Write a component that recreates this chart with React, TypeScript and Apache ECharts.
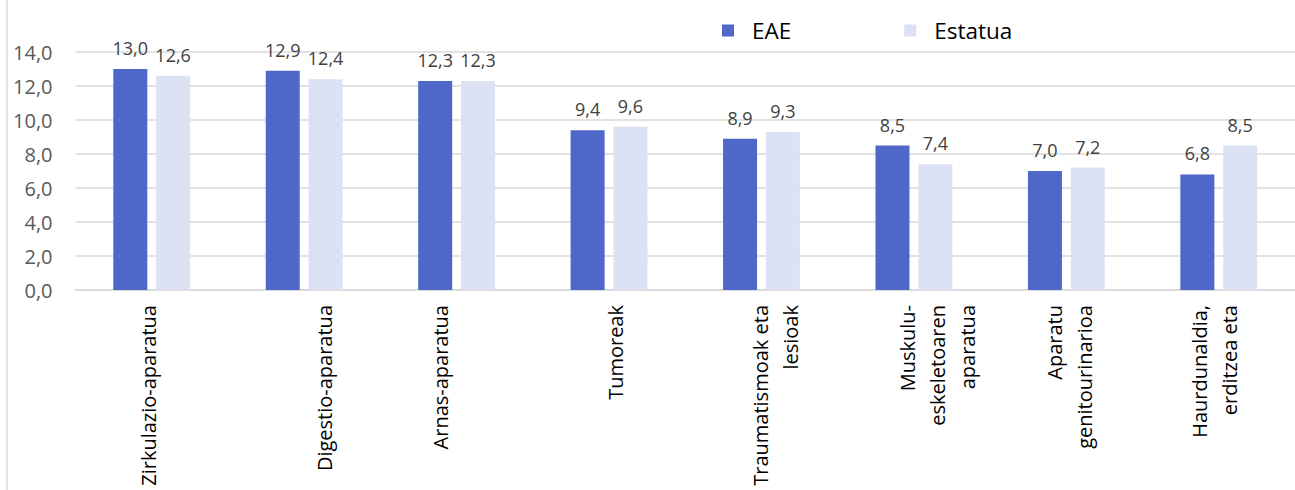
import React, { useEffect, useRef } from "react";
import * as echarts from "echarts";

const categories = [
  "Zirkulazio-aparatua",
  "Digestio-aparatua",
  "Arnas-aparatua",
  "Tumoreak",
  "Traumatismoak eta\nlesioak",
  "Muskulu-\neskeletoaren\naparatua",
  "Aparatu\ngenitourinarioa",
  "Haurdunaldia,\nerditzea eta",
];
const eaeValues = [13.0, 12.9, 12.3, 9.4, 8.9, 8.5, 7.0, 6.8];
const estatuaValues = [12.6, 12.4, 12.3, 9.6, 9.3, 7.4, 7.2, 8.5];
const seriesNames = ["EAE", "Estatua"];
// horizontal nudge (px) of each rotated category label, as placed in the original
const labelShift = [-3.5, 20, -16.5, 6.5, 14.5, 23.5, 3, -4.5];

const FONT = "'Open Sans', sans-serif";
const fmt = (v: number) => v.toFixed(1).replace(".", ",");

export default function App() {
  const ref = useRef<HTMLDivElement>(null);
  useEffect(() => {
    document.body.style.margin = "0";
    const chart = echarts.init(ref.current!, null, { renderer: "svg" });
    const valueLabel = {
      show: true,
      position: "top",
      distance: 12,
      color: "#404040",
      fontSize: 18,
      fontFamily: FONT,
      formatter: (p: any) => fmt(p.value),
    };
    const rich: any = {
      t: { fontSize: 20, lineHeight: 30, color: "#000000", fontFamily: FONT },
    };
    labelShift.forEach((s, i) => {
      rich["g" + i] = { fontSize: 1, lineHeight: Math.max(1, 2 * Math.abs(s)) };
    });
    chart.setOption({
      animation: false,
      backgroundColor: "#ffffff",
      textStyle: { fontFamily: FONT },
      legend: {
        left: 717,
        top: 14,
        icon: "rect",
        itemWidth: 12,
        itemHeight: 12,
        itemGap: 113,
        textStyle: { fontSize: 22.5, color: "#000000", fontFamily: FONT, padding: [0, 0, 0, 13] },
        data: seriesNames,
      },
      graphic: [
        {
          type: "line",
          shape: { x1: 7, y1: 0, x2: 7, y2: 490 },
          style: { stroke: "#d9d9d9", lineWidth: 1.5 },
        },
      ],
      grid: { left: 75.5, right: -4.5, top: 52, bottom: 200, containLabel: false },
      xAxis: {
        type: "category",
        data: categories,
        axisLine: { show: true, lineStyle: { color: "#d9d9d9", width: 1.5 } },
        axisTick: { show: false },
        axisLabel: {
          rotate: 90,
          margin: 15,
          interval: 0,
          fontSize: 20,
          lineHeight: 30,
          color: "#000000",
          fontFamily: FONT,
          rich,
          formatter: (value: string, idx: number) => {
            const s = labelShift[idx];
            const body = value
              .split("\n")
              .map((l) => `{t|${l}}`)
              .join("\n");
            const gap = `{g${idx}| }`;
            return s >= 0 ? gap + "\n" + body : body + "\n" + gap;
          },
        },
      },
      yAxis: {
        type: "value",
        min: 0,
        max: 14,
        interval: 2,
        axisLine: { show: false },
        axisTick: { show: false },
        splitLine: { lineStyle: { color: "#d9d9d9", width: 1.5 } },
        axisLabel: {
          margin: 23,
          fontSize: 20,
          color: "#595959",
          fontFamily: FONT,
          formatter: (v: number) => fmt(v),
        },
      },
      series: [
        {
          name: seriesNames[0],
          type: "bar",
          data: eaeValues,
          barWidth: 34,
          barGap: "26%",
          itemStyle: { color: "#4e67c8" },
          label: valueLabel,
        },
        {
          name: seriesNames[1],
          type: "bar",
          data: estatuaValues,
          barWidth: 34,
          itemStyle: { color: "#dce1f3" },
          label: valueLabel,
        },
      ],
    });
    return () => chart.dispose();
  }, []);
  return <div ref={ref} style={{ width: 1295, height: 490 }} />;
}
